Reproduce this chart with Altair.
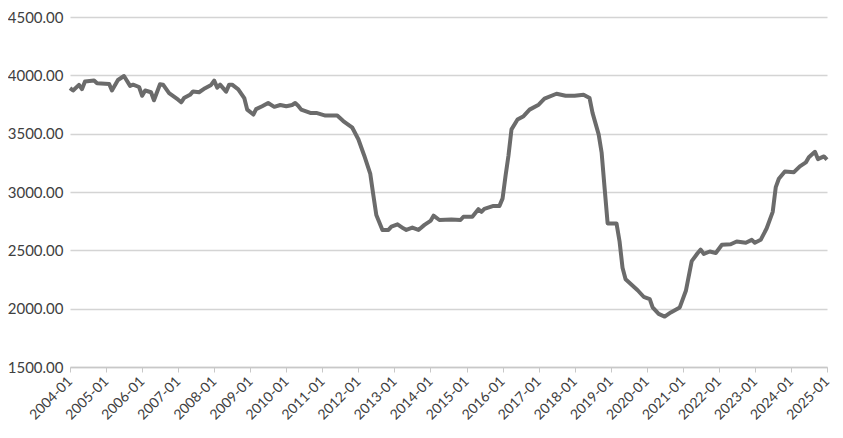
import altair as alt
import pandas as pd

months = [
    "2004-01","2004-02","2004-04","2004-05","2004-06","2004-09","2004-10",
    "2005-02","2005-03","2005-05","2005-07","2005-09","2005-10","2005-12",
    "2006-01","2006-02","2006-04","2006-05","2006-07","2006-08","2006-10",
    "2007-01","2007-02","2007-03","2007-05","2007-06","2007-08","2007-10","2007-12",
    "2008-01","2008-02","2008-03","2008-05","2008-06","2008-07","2008-09","2008-11","2008-12",
    "2009-02","2009-03","2009-05","2009-07","2009-09","2009-11",
    "2010-01","2010-03","2010-04","2010-05","2010-06","2010-09","2010-11",
    "2011-02","2011-06","2011-08","2011-11",
    "2012-01","2012-03","2012-05","2012-06","2012-07","2012-09","2012-11","2012-12",
    "2013-02","2013-04","2013-05","2013-07","2013-09","2013-11",
    "2014-01","2014-02","2014-04","2014-08","2014-11","2014-12",
    "2015-03","2015-05","2015-06","2015-07","2015-10","2015-12",
    "2016-01","2016-02","2016-03","2016-04","2016-06","2016-08","2016-10",
    "2017-01","2017-03","2017-07","2017-10",
    "2018-01","2018-04","2018-06","2018-07","2018-09","2018-10","2018-11","2018-12",
    "2019-03","2019-04","2019-05","2019-06","2019-10","2019-12",
    "2020-02","2020-03","2020-05","2020-07","2020-09","2020-12",
    "2021-02","2021-04","2021-06","2021-07","2021-08","2021-10","2021-12",
    "2022-02","2022-05","2022-07","2022-10","2022-12",
    "2023-01","2023-03","2023-05","2023-07","2023-08","2023-09","2023-11",
    "2024-02","2024-04","2024-06","2024-07","2024-09","2024-10","2024-12",
    "2025-01",
]
values = [
    3890,3870,3918,3881,3947,3955,3932,
    3925,3870,3960,3994,3910,3920,3900,
    3825,3870,3855,3786,3924,3920,3847,
    3791,3769,3805,3833,3862,3855,3890,3918,
    3955,3895,3920,3860,3920,3920,3880,3805,3706,
    3664,3710,3735,3763,3730,3746,
    3735,3746,3763,3740,3706,3678,3678,
    3655,3655,3608,3551,
    3452,3311,3155,2972,2803,2675,2675,2703,
    2723,2689,2675,2695,2675,2718,
    2752,2797,2760,2765,2760,2788,
    2788,2853,2830,2856,2881,2881,
    2943,3141,3311,3537,3621,3650,3706,
    3748,3800,3842,3825,
    3825,3833,3805,3678,3494,3339,3028,2731,
    2731,2576,2350,2252,2158,2102,
    2082,2011,1955,1932,1968,2011,
    2153,2407,2477,2506,2469,2490,2477,
    2548,2552,2576,2565,2590,
    2565,2590,2689,2830,3042,3113,3175,
    3170,3220,3254,3297,3345,3282,3305,
    3277,
]
tick_years = list(range(2004, 2026))

df = pd.DataFrame({"date": [m + "-01T00:00:00" for m in months], "value": values})

line = alt.Chart(df).mark_line(color="#6b6b6b", strokeWidth=4, strokeJoin="round").encode(
    x=alt.X(
        "date:T",
        scale=alt.Scale(domain=[alt.DateTime(year=2004, month=1, date=1),
                                alt.DateTime(year=2025, month=1, date=1)]),
        axis=alt.Axis(
            values=[alt.DateTime(year=y, month=1, date=1) for y in tick_years],
            format="%Y-%m",
            labelAngle=-45,
            labelAlign="right",
            labelBaseline="middle",
            labelFont="Lato",
            labelFontSize=14,
            labelColor="#404040",
            labelPadding=7,
            labelOverlap=False,
            labelBound=False,
            tickColor="#c8c8c8",
            tickSize=5,
            domainColor="#c8c8c8",
            domainWidth=1.5,
            grid=False,
            title=None,
        ),
    ),
    y=alt.Y(
        "value:Q",
        scale=alt.Scale(domain=[1500, 4500], nice=False),
        axis=alt.Axis(
            values=[1500, 2000, 2500, 3000, 3500, 4000, 4500],
            format=".2f",
            labelFont="Lato",
            labelFontSize=15,
            labelColor="#404040",
            labelPadding=7,
            grid=True,
            gridColor="#d4d4d4",
            gridWidth=1.5,
            domain=False,
            ticks=False,
            title=None,
        ),
    ),
)

chart = line.properties(
    width=757,
    height=350,
    autosize=alt.AutoSizeParams(type="none"),
    padding={"left": 62, "top": 9, "right": 8, "bottom": 58},
).configure_view(stroke=None)

chart.save("out.html", embed_options={"renderer": "svg", "actions": False})
